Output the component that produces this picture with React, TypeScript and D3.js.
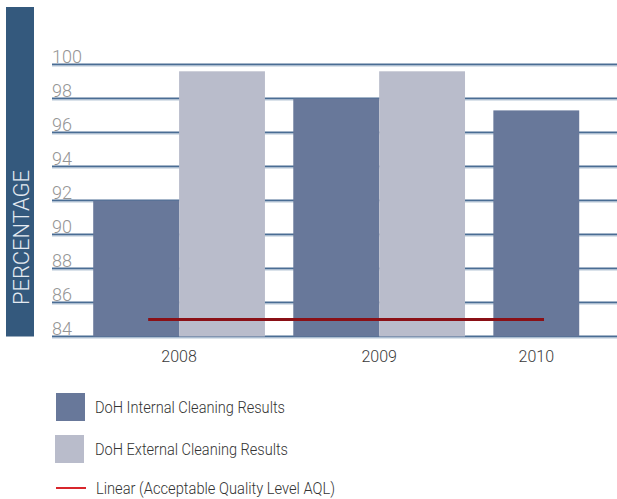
import React from "react";
import * as d3 from "d3";

const categories = ["2008", "2009", "2010"];
const internalValues: (number | null)[] = [92, 98, 97.3];
const externalValues: (number | null)[] = [99.6, 99.6, null];
const aqlValue = 85;
const yTicks = [84, 86, 88, 90, 92, 94, 96, 98, 100];
const seriesNames = [
  "DoH Internal Cleaning Results",
  "DoH External Cleaning Results",
  "Linear (Acceptable Quality Level AQL)",
];

const W = 617;
const H = 499;
const COL_INT = "#68789a";
const COL_EXT = "#b9bccb";
const GRID = "#4a6d94";
const GRID_LIGHT = "#b5c5d6";
const BAND = "#34597d";
const RED = "#8a1016";
const RED_LEG = "#d8262c";

export default function App() {
  const y = d3.scaleLinear().domain([84, 100]).range([336.5, 64.5]);
  const GAP = 0.33;
  const x = d3.scaleLinear().domain([-0.48, 6.1]).range([52, 617]);
  const unit = x(1) - x(0);

  type Bar = { key: string; cat: string; v: number; color: string; start: number };
  const bars: Bar[] = [];
  const groups: { cat: string; start: number; end: number }[] = [];
  let pos = 0;
  categories.forEach((c, i) => {
    const gStart = pos;
    const vals: [number | null, string][] = [
      [internalValues[i], COL_INT],
      [externalValues[i], COL_EXT],
    ];
    vals.forEach(([v, col], j) => {
      if (v != null) {
        bars.push({ key: c + j, cat: c, v, color: col, start: pos });
        pos += 1;
      }
    });
    groups.push({ cat: c, start: gStart, end: pos });
    pos += GAP;
  });

  const aqlStart = 0.64;
  const aqlEnd = 5.25;

  return (
    <svg
      width={W}
      height={H}
      style={{ position: "absolute", left: 0, top: 0, background: "#fff" }}
      fontFamily="Roboto, 'Liberation Sans', sans-serif"
    >
      <rect x={6} y={7} width={28} height={y(84) - 7} fill={BAND} />
      <text
        transform={`translate(29, ${y(84) - 31.5}) rotate(-90)`}
        fill="#e4eaf1"
        fontSize={22}
        fontWeight={300}
        textLength={135}
        lengthAdjust="spacingAndGlyphs"
      >
        PERCENTAGE
      </text>

      <g>
        {yTicks.map((t) => (
          <g key={t}>
            <line x1={52} x2={W} y1={y(t)} y2={y(t)} stroke={GRID} strokeWidth={2} />
            <line x1={52} x2={W} y1={y(t) + 1.5} y2={y(t) + 1.5} stroke={GRID_LIGHT} strokeWidth={1} />
            <text x={52} y={y(t) - 2} fill="#959595" fontSize={18} fontWeight={300}>
              {t}
            </text>
          </g>
        ))}
      </g>

      <g>
        {bars.map((b) => (
          <rect
            key={b.key}
            x={x(b.start)}
            y={y(b.v)}
            width={unit}
            height={y(84) - y(b.v)}
            fill={b.color}
          />
        ))}
      </g>

      <line
        x1={x(aqlStart)}
        x2={x(aqlEnd)}
        y1={y(aqlValue)}
        y2={y(aqlValue)}
        stroke={RED}
        strokeWidth={3}
      />

      {groups.map((g) => (
        <text
          key={g.cat}
          x={(x(g.start) + x(g.end)) / 2}
          y={362}
          textAnchor="middle"
          fill="#3a3a3a"
          fontSize={16}
          fontWeight={300}
        >
          {g.cat}
        </text>
      ))}

      <rect x={56} y={393} width={29} height={28} fill={COL_INT} />
      <text x={95} y={413} fill="#333" fontSize={16} fontWeight={300} textLength={190} lengthAdjust="spacingAndGlyphs">
        {seriesNames[0]}
      </text>
      <rect x={55} y={435} width={29} height={28} fill={COL_EXT} />
      <text x={95} y={455} fill="#333" fontSize={16} fontWeight={300} textLength={193} lengthAdjust="spacingAndGlyphs">
        {seriesNames[1]}
      </text>
      <line x1={56} x2={86} y1={488} y2={488} stroke={RED_LEG} strokeWidth={2} />
      <text x={96} y={494} fill="#333" fontSize={16} fontWeight={300} textLength={239} lengthAdjust="spacingAndGlyphs">
        {seriesNames[2]}
      </text>
    </svg>
  );
}
